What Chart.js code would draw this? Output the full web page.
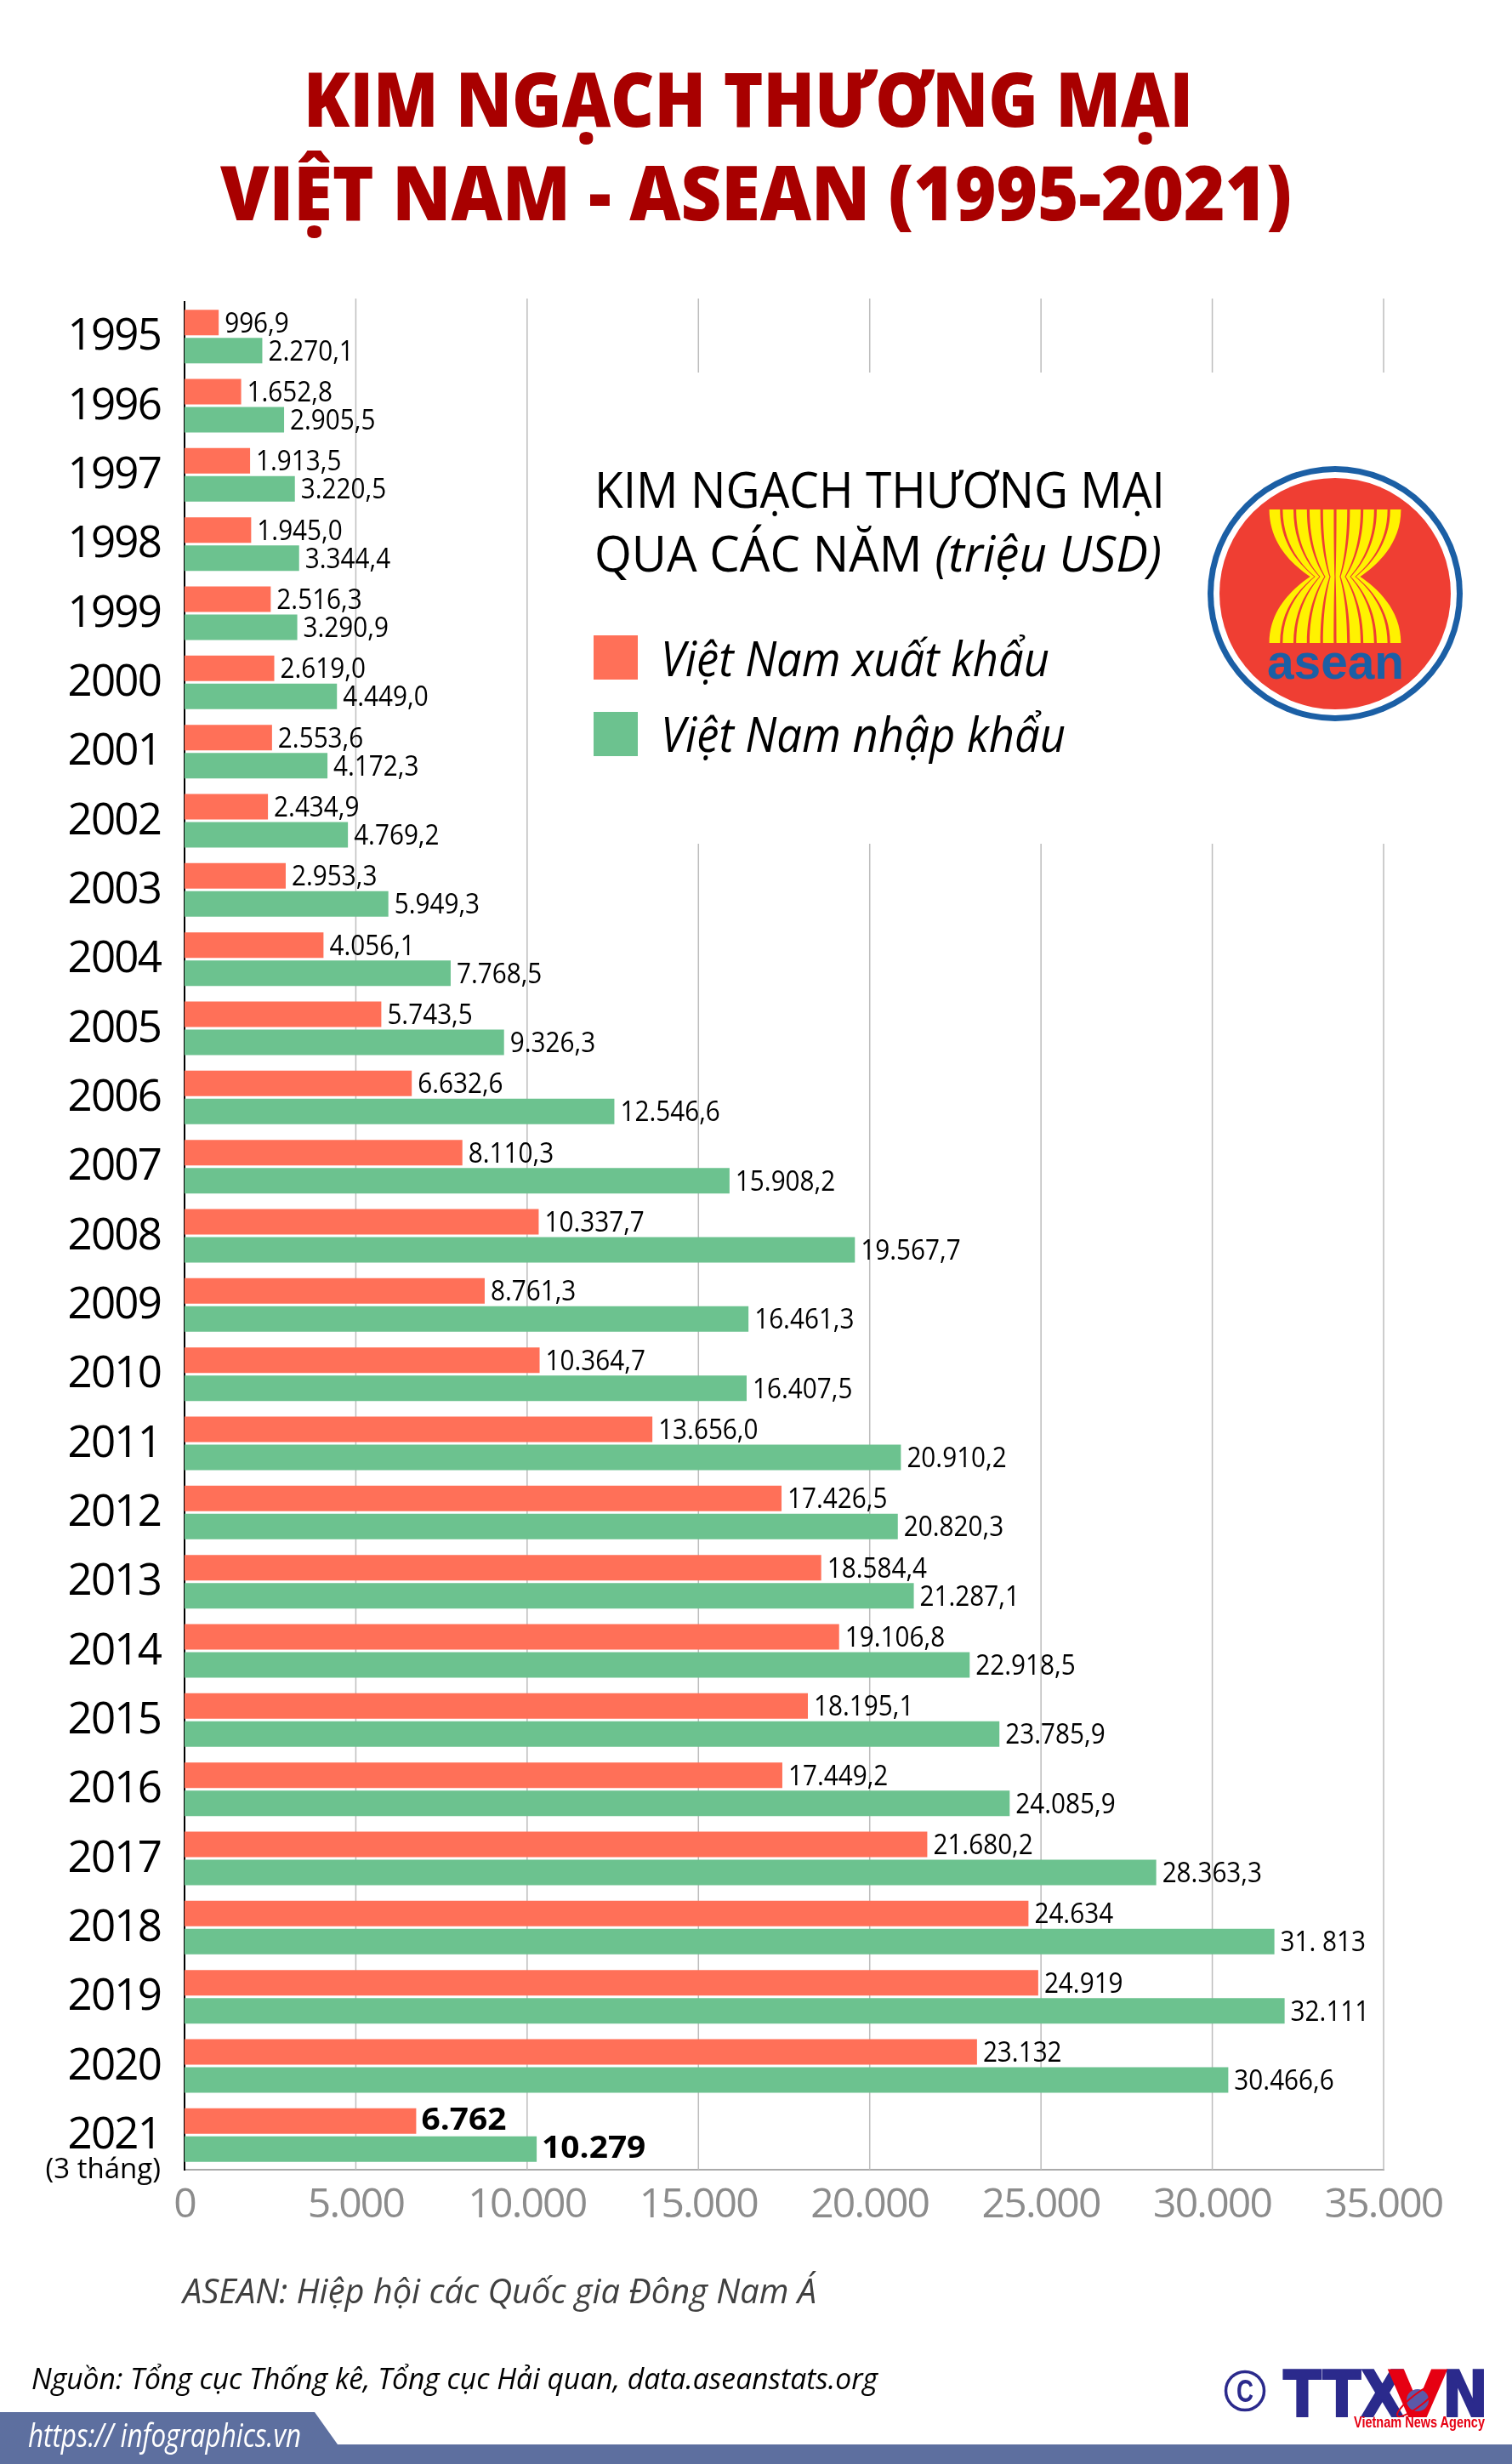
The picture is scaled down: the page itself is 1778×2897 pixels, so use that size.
<!DOCTYPE html>
<html lang="vi">
<head>
<meta charset="utf-8">
<title>Kim ngạch thương mại Việt Nam - ASEAN (1995-2021)</title>
<script src="https://cdn.jsdelivr.net/npm/chart.js@4/dist/chart.umd.min.js"></script>
<style>
  html, body { margin: 0; background: #fff; }
  #page { position: relative; width: 1778px; height: 2897px; overflow: hidden; }
  #chart { position: absolute; left: 0; top: 0; }
  #overlay { position: absolute; left: 0; top: 0; font-family: "Open Sans", sans-serif; }
</style>
</head>
<body>
<div id="page">
  <canvas id="chart" width="1778" height="2897"></canvas>
  <svg id="overlay" width="1778" height="2897" viewBox="0 0 1778 2897" xmlns="http://www.w3.org/2000/svg">
    <g fill="#a80000" font-weight="800" font-size="88">
      <text x="357" y="149" textLength="1046" lengthAdjust="spacingAndGlyphs">KIM NGẠCH THƯƠNG MẠI</text>
      <text x="259" y="259" textLength="1260" lengthAdjust="spacingAndGlyphs">VIỆT NAM - ASEAN (1995-2021)</text>
    </g>

    <g fill="#000" font-size="59">
      <text x="699" y="597" textLength="671" lengthAdjust="spacingAndGlyphs">KIM NGẠCH THƯƠNG MẠI</text>
      <text x="699" y="672" textLength="667" lengthAdjust="spacingAndGlyphs">QUA CÁC NĂM <tspan font-style="italic">(triệu USD)</tspan></text>
    </g>
    <rect x="698" y="747" width="52" height="52" fill="#ff7058"/>
    <rect x="698" y="837" width="52" height="52" fill="#6cc28f"/>
    <g fill="#000" font-size="56" font-style="italic">
      <text x="777" y="795" textLength="457" lengthAdjust="spacingAndGlyphs">Việt Nam xuất khẩu</text>
      <text x="777" y="884" textLength="476" lengthAdjust="spacingAndGlyphs">Việt Nam nhập khẩu</text>
    </g>

    <g id="aseanLogo">
      <circle cx="1570" cy="698" r="150" fill="#1b5fa5"/>
      <circle cx="1570" cy="698" r="143" fill="#fff"/>
      <circle cx="1570" cy="698" r="136" fill="#ef3e33"/>
      <g id="stalks" fill="#fff200"></g>
      <text x="1490" y="798" font-family="'Liberation Sans', sans-serif" font-weight="700" font-size="57" fill="#1b5fa5" textLength="161" lengthAdjust="spacingAndGlyphs">asean</text>
    </g>

    <text x="189" y="2561" text-anchor="end" font-size="33" fill="#000">(3 tháng)</text>

    <text x="215" y="2708" font-size="40" font-style="italic" fill="#404040" textLength="745" lengthAdjust="spacingAndGlyphs">ASEAN: Hiệp hội các Quốc gia Đông Nam Á</text>
    <text x="37" y="2809" font-size="35" font-style="italic" fill="#000" textLength="995" lengthAdjust="spacingAndGlyphs">Nguồn: Tổng cục Thống kê, Tổng cục Hải quan, data.aseanstats.org</text>

    <polygon points="0,2836 370,2836 397,2874 1778,2874 1778,2897 0,2897" fill="#5d6f9f"/>
    <text x="33" y="2877" font-size="38" font-style="italic" fill="#fff" textLength="321" lengthAdjust="spacingAndGlyphs">https:// infographics.vn</text>

    <g id="ttxvnLogo" font-family="'Liberation Sans', sans-serif" font-weight="700">
      <ellipse cx="1464" cy="2811" rx="22.5" ry="22.5" fill="none" stroke="#2b2a8c" stroke-width="3.5"/>
      <text x="1464" y="2824" text-anchor="middle" font-size="36" fill="#2b2a8c" textLength="20" lengthAdjust="spacingAndGlyphs">C</text>
      <g font-family="'DejaVu Sans', sans-serif" font-size="74" stroke-width="2">
        <text x="1509" y="2841" fill="#2b2a8c" stroke="#2b2a8c" textLength="142" lengthAdjust="spacingAndGlyphs">TTX</text>
        <text x="1696" y="2841" fill="#2b2a8c" stroke="#2b2a8c" textLength="54" lengthAdjust="spacingAndGlyphs">N</text>
        <text x="1633" y="2841" fill="#e60012" stroke="#e60012" textLength="68" lengthAdjust="spacingAndGlyphs">V</text>
      </g>
      <circle cx="1667" cy="2822" r="13" fill="#5b59a8"/>
      <ellipse cx="1667" cy="2822" rx="30" ry="7" fill="none" stroke="#e60012" stroke-width="2" transform="rotate(-38 1667 2822)"/>
      <text x="1592" y="2854" font-size="18" fill="#e60012" textLength="154" lengthAdjust="spacingAndGlyphs">Vietnam News Agency</text>
    </g>
  </svg>
</div>

<script>
const years = ["1995", "1996", "1997", "1998", "1999", "2000", "2001", "2002", "2003", "2004", "2005", "2006", "2007", "2008", "2009", "2010", "2011", "2012", "2013", "2014", "2015", "2016", "2017", "2018", "2019", "2020", "2021"];

const exportValues = [996.9, 1652.8, 1913.5, 1945.0, 2516.3, 2619.0, 2553.6, 2434.9, 2953.3, 4056.1, 5743.5, 6632.6, 8110.3, 10337.7, 8761.3, 10364.7, 13656.0, 17426.5, 18584.4, 19106.8, 18195.1, 17449.2, 21680.2, 24634, 24919, 23132, 6762];
const importValues = [2270.1, 2905.5, 3220.5, 3344.4, 3290.9, 4449.0, 4172.3, 4769.2, 5949.3, 7768.5, 9326.3, 12546.6, 15908.2, 19567.7, 16461.3, 16407.5, 20910.2, 20820.3, 21287.1, 22918.5, 23785.9, 24085.9, 28363.3, 31813, 32111, 30466.6, 10279];

const exportLabels = ["996,9", "1.652,8", "1.913,5", "1.945,0", "2.516,3", "2.619,0", "2.553,6", "2.434,9", "2.953,3", "4.056,1", "5.743,5", "6.632,6", "8.110,3", "10.337,7", "8.761,3", "10.364,7", "13.656,0", "17.426,5", "18.584,4", "19.106,8", "18.195,1", "17.449,2", "21.680,2", "24.634", "24.919", "23.132", "6.762"];
const importLabels = ["2.270,1", "2.905,5", "3.220,5", "3.344,4", "3.290,9", "4.449,0", "4.172,3", "4.769,2", "5.949,3", "7.768,5", "9.326,3", "12.546,6", "15.908,2", "19.567,7", "16.461,3", "16.407,5", "20.910,2", "20.820,3", "21.287,1", "22.918,5", "23.785,9", "24.085,9", "28.363,3", "31. 813", "32.111", "30.466,6", "10.279"];

const xTickLabels = ["0", "5.000", "10.000", "15.000", "20.000", "25.000", "30.000", "35.000"];

const exportColor = "#ff7058";
const importColor = "#6cc28f";
const gridColor = "#bdbdbd";
const fontFamily = '"Open Sans", sans-serif';

// gridlines stop around the legend block, like in the printed layout
const gridPlugin = {
  id: "gappedGrid",
  beforeDatasetsDraw(chart) {
    const { ctx, chartArea, scales } = chart;
    ctx.save();
    ctx.strokeStyle = gridColor;
    ctx.lineWidth = 1.5;
    scales.x.ticks.forEach((tick) => {
      if (tick.value === 0) {
        return;
      }
      const x = scales.x.getPixelForValue(tick.value);
      ctx.beginPath();
      ctx.moveTo(x, chartArea.top - 4);
      if (tick.value >= 15000) {
        ctx.lineTo(x, 438);
        ctx.moveTo(x, 992);
      }
      ctx.lineTo(x, chartArea.bottom);
      ctx.stroke();
    });
    ctx.restore();
  },
};

const valueLabelPlugin = {
  id: "valueLabels",
  afterDatasetsDraw(chart) {
    const { ctx } = chart;
    const labelSets = [exportLabels, importLabels];
    ctx.save();
    ctx.letterSpacing = "0px";
    ctx.fillStyle = "#000";
    ctx.textBaseline = "middle";
    labelSets.forEach((labels, setIndex) => {
      chart.getDatasetMeta(setIndex).data.forEach((bar, i) => {
        const isLast = i === labels.length - 1;
        ctx.save();
        ctx.translate(bar.x + (isLast ? 6 : 7), bar.y + (isLast ? 0 : 2));
        ctx.scale(isLast ? 1.08 : 0.9, 1);
        ctx.font = `${isLast ? 700 : 400} ${isLast ? 36 : 33}px ${fontFamily}`;
        ctx.fillText(labels[i], 0, 0);
        ctx.restore();
      });
    });
    ctx.restore();
  },
};

const tickSpacingPlugin = {
  id: "tickSpacing",
  beforeDraw(chart) {
    chart.ctx.letterSpacing = "-1.8px";
  },
};

function drawStalks() {
  const group = document.getElementById("stalks");
  const top = 599;
  const waist = 678;
  const bottom = 756;
  let parts = "";
  const edge = (k) => {
    const t = 1491 + k * 15.8;
    const w = 1570 + (k - 5) * 6;
    return { t, w, bend: w + (t - w) * 0.4 };
  };
  for (let i = 0; i < 10; i++) {
    const a = edge(i + 0.1);
    const b = edge(i + 0.9);
    const d = `M${a.t} ${top} C${a.t} 640 ${a.bend} 665 ${a.w} ${waist} C${a.bend} 691 ${a.t} 716 ${a.t} ${bottom}` +
      ` L${b.t} ${bottom} C${b.t} 716 ${b.bend} 691 ${b.w} ${waist} C${b.bend} 665 ${b.t} 640 ${b.t} ${top} Z`;
    parts += `<path d="${d}"/>`;
  }
  group.innerHTML = parts;
}

function init() {
  drawStalks();
  new Chart(document.getElementById("chart").getContext("2d"), {
    type: "bar",
    plugins: [gridPlugin, valueLabelPlugin, tickSpacingPlugin],
    data: {
      labels: years,
      datasets: [
        { label: "Việt Nam xuất khẩu", data: exportValues, backgroundColor: exportColor },
        { label: "Việt Nam nhập khẩu", data: importValues, backgroundColor: importColor },
      ],
    },
    options: {
      indexAxis: "y",
      responsive: false,
      animation: false,
      devicePixelRatio: 1,
      layout: { padding: { left: 0, top: 355, right: 151, bottom: 286 } },
      categoryPercentage: 0.812,
      barPercentage: 0.909,
      scales: {
        x: {
          min: 0,
          max: 35000,
          afterFit: (scale) => { scale.height = 60; },
          grid: { display: false, drawTicks: false },
          border: { color: "#aaaaaa", width: 2 },
          ticks: {
            stepSize: 5000,
            padding: 14,
            color: "#8c8c8c",
            maxRotation: 0,
            font: { family: fontFamily, size: 48 },
            callback: (value, index) => xTickLabels[index],
          },
        },
        y: {
          afterFit: (scale) => { scale.width = 217; },
          grid: { display: false, drawTicks: false },
          border: { color: "#000", width: 2 },
          ticks: {
            autoSkip: false,
            padding: 28,
            labelOffset: 1,
            color: "#000",
            font: { family: fontFamily, size: 51 },
          },
        },
      },
      plugins: {
        legend: { display: false },
        tooltip: { enabled: false },
      },
    },
  });
}

window.addEventListener("DOMContentLoaded", init);
</script>
</body>
</html>
